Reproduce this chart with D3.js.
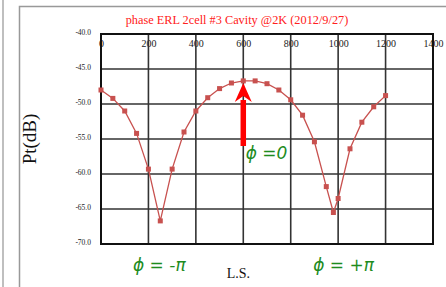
<!DOCTYPE html>
<html>
<head>
<meta charset="utf-8">
<script src="https://cdn.jsdelivr.net/npm/d3@7"></script>
<style>
  body { margin: 0; background: #fff; }
  svg { display: block; }
</style>
</head>
<body>
<svg id="chart" width="446" height="287"></svg>
<script>
// measured points: L.S. position vs transmitted power
const lsPos = [0, 50, 100, 150, 200, 250, 300, 350, 400, 450, 500, 550, 600, 650, 700, 750, 800, 850, 900, 950, 980, 1000, 1050, 1100, 1150, 1200];
const ptValues = [-48.0, -49.2, -51.0, -54.2, -59.3, -66.7, -59.3, -54.0, -51.0, -49.1, -47.8, -47.0, -46.7, -46.7, -47.1, -48.0, -49.4, -51.6, -55.4, -61.8, -65.5, -63.5, -56.4, -52.6, -50.4, -48.8];
const xTicks = [0, 200, 400, 600, 800, 1000, 1200, 1400];
const yTicks = [-40, -45, -50, -55, -60, -65, -70];

const data = lsPos.map((d, i) => ({ ls: d, pt: ptValues[i] }));

const svg = d3.select(`#chart`);
const serif = `"Liberation Serif", "DejaVu Serif", serif`;
const green = `#1e8c1e`;
const lineColor = `#c8514f`;

// page frame
svg.append(`line`)
    .attr(`x1`, 3).attr(`x2`, 3).attr(`y1`, 0).attr(`y2`, 287)
    .attr(`stroke`, `#aaa`).attr(`stroke-width`, 1.5);
svg.append(`path`)
    .attr(`d`, `M19.5,287 V6.5 H446`)
    .attr(`fill`, `none`)
    .attr(`stroke`, `#999`).attr(`stroke-width`, 1.5);

const x = d3.scaleLinear().domain([0, 1400]).range([101, 433]);
const y = d3.scaleLinear().domain([-40, -70]).range([34, 244]);

// title
svg.append(`text`)
    .attr(`x`, 237).attr(`y`, 24)
    .attr(`text-anchor`, `middle`)
    .attr(`font-family`, serif)
    .attr(`font-size`, 12.3)
    .attr(`fill`, `#ff2020`)
    .text(`phase ERL 2cell #3 Cavity @2K (2012/9/27)`);

// x tick labels sit just inside the top border
const xAxis = svg.append(`g`)
    .attr(`transform`, `translate(0,${y(-40)})`)
    .call(d3.axisBottom(x).tickValues(xTicks).tickSize(0).tickPadding(6).tickFormat(d => d));
xAxis.select(`.domain`).remove();
xAxis.selectAll(`text`)
    .attr(`font-family`, serif).attr(`font-size`, 10).attr(`fill`, `#222`);

const yAxis = svg.append(`g`)
    .attr(`transform`, `translate(${x(0)},0)`)
    .call(d3.axisLeft(y).tickValues(yTicks).tickSize(0).tickPadding(10).tickFormat(d => d.toFixed(1)));
yAxis.select(`.domain`).remove();
yAxis.selectAll(`text`)
    .attr(`font-family`, serif).attr(`font-size`, 7.5).attr(`fill`, `#222`)
    .attr(`dy`, `0.1em`);

// grid
const grid = svg.append(`g`);
grid.selectAll(`.vg`)
    .data(xTicks.slice(1, -1))
    .join(`line`)
    .attr(`x1`, d => x(d)).attr(`x2`, d => x(d))
    .attr(`y1`, y(-40)).attr(`y2`, y(-70))
    .attr(`stroke`, `#333`).attr(`stroke-width`, 1.6);
grid.selectAll(`.hg`)
    .data(yTicks.slice(1, -1))
    .join(`line`)
    .attr(`x1`, x(0)).attr(`x2`, x(1400))
    .attr(`y1`, d => y(d)).attr(`y2`, d => y(d))
    .attr(`stroke`, `#333`).attr(`stroke-width`, 1.6);
svg.append(`rect`)
    .attr(`x`, x(0)).attr(`y`, y(-40))
    .attr(`width`, x(1400) - x(0)).attr(`height`, y(-70) - y(-40))
    .attr(`fill`, `none`).attr(`stroke`, `#111`).attr(`stroke-width`, 2);

// y axis title
svg.append(`text`)
    .attr(`transform`, `translate(36,${y(-55)}) rotate(-90)`)
    .attr(`text-anchor`, `middle`)
    .attr(`font-family`, serif)
    .attr(`font-size`, 19)
    .attr(`fill`, `#111`)
    .text(`Pt(dB)`);

// series
svg.append(`path`)
    .datum(data)
    .attr(`fill`, `none`)
    .attr(`stroke`, lineColor)
    .attr(`stroke-width`, 1.3)
    .attr(`d`, d3.line().x(d => x(d.ls)).y(d => y(d.pt)));
svg.selectAll(`.pt`)
    .data(data)
    .join(`rect`)
    .attr(`x`, d => x(d.ls) - 2.5)
    .attr(`y`, d => y(d.pt) - 2.5)
    .attr(`width`, 5).attr(`height`, 5)
    .attr(`fill`, lineColor);

// red arrow at phi = 0
const ax = x(600);
const tipY = y(-47.0);
const baseY = y(-56.0);
const headH = 19;
svg.append(`line`)
    .attr(`x1`, ax).attr(`x2`, ax)
    .attr(`y1`, baseY).attr(`y2`, tipY + headH - 2)
    .attr(`stroke`, `#ff0000`).attr(`stroke-width`, 5.5);
svg.append(`path`)
    .attr(`d`, d3.line()([[ax, tipY], [ax + 8.5, tipY + headH], [ax, tipY + headH - 6], [ax - 8.5, tipY + headH]]) + `Z`)
    .attr(`fill`, `#ff0000`);

// annotations
const phiLabel = (lx, ly, txt) => svg.append(`text`)
    .attr(`x`, lx).attr(`y`, ly)
    .attr(`font-family`, `"DejaVu Sans", sans-serif`)
    .attr(`font-style`, `italic`)
    .attr(`font-size`, 17)
    .attr(`fill`, green)
    .text(txt);
phiLabel(x(610), y(-57.9), `ϕ =0`);
phiLabel(x(135), y(-73.9), `ϕ = -π`);
phiLabel(x(895), y(-73.9), `ϕ = +π`);

svg.append(`text`)
    .attr(`x`, x(530)).attr(`y`, y(-74.9))
    .attr(`font-family`, serif)
    .attr(`font-size`, 14)
    .attr(`fill`, `#111`)
    .text(`L.S.`);
</script>
</body>
</html>
